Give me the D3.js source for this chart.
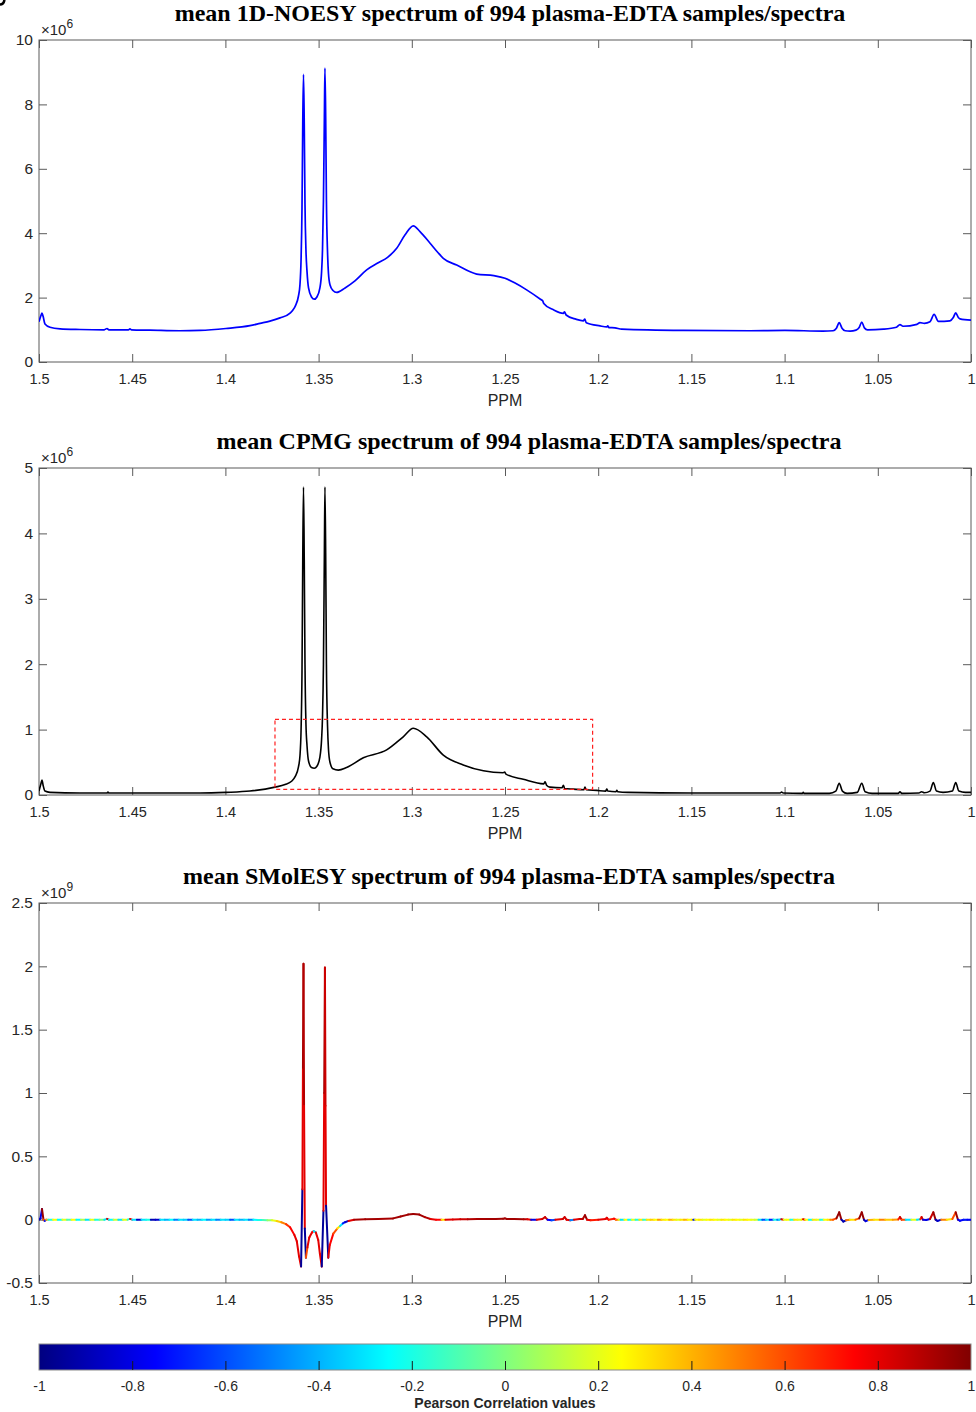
<!DOCTYPE html>
<html><head><meta charset="utf-8">
<script src="https://cdn.jsdelivr.net/npm/d3@7"></script>
<style>
html,body{margin:0;padding:0;background:#fff;}
svg{display:block;}
</style></head><body>
<svg id="fig" width="976" height="1412"></svg>
<script>
// ---- chemical shift axis ----
const xTicks = [1.5, 1.45, 1.4, 1.35, 1.3, 1.25, 1.2, 1.15, 1.1, 1.05, 1];
const xTickLabels = ["1.5", "1.45", "1.4", "1.35", "1.3", "1.25", "1.2", "1.15", "1.1", "1.05", "1"];

// ---- mean 1D-NOESY spectrum: [ppm, intensity x1e6] ----
const noesy = [
  [1.5000,1.25],[1.4989,1.45],[1.4984,1.52],[1.4978,1.42],[1.4968,1.18],[1.4941,1.08],
  [1.4887,1.03],[1.4780,1.01],[1.4650,1.00],[1.4635,1.04],[1.4625,1.00],[1.4520,1.00],
  [1.4512,1.03],[1.4504,1.00],[1.4405,0.99],[1.4244,0.97],[1.4136,0.98],[1.3997,1.04],
  [1.3868,1.13],[1.3814,1.20],[1.3761,1.27],[1.3707,1.37],[1.3653,1.52],[1.3630,1.68],
  [1.3624,1.75],[1.3608,2.05],[1.3600,2.40],[1.3594,3.20],[1.3589,4.80],[1.3585,7.40],
  [1.3581,8.93],[1.3577,7.40],[1.3573,4.90],[1.3568,3.50],[1.3562,2.80],[1.3554,2.30],
  [1.3538,2.02],[1.3523,1.95],[1.3509,2.02],[1.3493,2.30],[1.3484,2.80],[1.3479,3.50],
  [1.3474,5.00],[1.3469,7.60],[1.3466,9.13],[1.3462,7.60],[1.3458,5.00],[1.3452,3.40],
  [1.3447,2.75],[1.3439,2.40],[1.3423,2.22],[1.3403,2.16],[1.3358,2.30],[1.3305,2.52],
  [1.3242,2.86],[1.3180,3.08],[1.3130,3.25],[1.3081,3.53],[1.3036,3.95],[1.2992,4.23],
  [1.2956,4.05],[1.2902,3.69],[1.2860,3.40],[1.2831,3.22],[1.2759,3.01],[1.2652,2.73],
  [1.2560,2.68],[1.2500,2.60],[1.2446,2.45],[1.2384,2.24],[1.2310,1.95],[1.2298,1.90],
  [1.2292,1.82],[1.2240,1.62],[1.2187,1.51],[1.2181,1.56],[1.2172,1.46],[1.2120,1.33],
  [1.2080,1.28],[1.2072,1.33],[1.2064,1.22],[1.1990,1.12],[1.1954,1.09],[1.1949,1.12],
  [1.1942,1.07],[1.1910,1.06],[1.1874,1.02],[1.1545,0.98],[1.1186,0.97],[1.0998,0.98],
  [1.0794,0.96],[1.0740,0.97],[1.0722,1.05],[1.0707,1.22],[1.0692,1.05],[1.0675,0.97],
  [1.0649,0.96],[1.0617,0.99],[1.0600,1.07],[1.0586,1.24],[1.0572,1.06],[1.0555,1.00],
  [1.0470,1.02],[1.0400,1.08],[1.0381,1.16],[1.0365,1.11],[1.0290,1.17],[1.0274,1.22],
  [1.0250,1.20],[1.0220,1.25],[1.0198,1.48],[1.0175,1.26],[1.0113,1.28],[1.0095,1.38],
  [1.0082,1.53],[1.0068,1.38],[1.0059,1.34],[1.0000,1.30]
];

// ---- mean CPMG spectrum: [ppm, intensity x1e6] ----
const cpmg = [
  [1.5000,0.06],[1.4989,0.18],[1.4984,0.23],[1.4978,0.15],[1.4968,0.06],[1.4941,0.04],
  [1.4780,0.03],[1.4635,0.03],[1.4630,0.045],[1.4625,0.03],[1.4405,0.03],[1.4136,0.03],
  [1.3997,0.04],[1.3868,0.06],[1.3734,0.12],[1.3680,0.16],[1.3645,0.21],[1.3626,0.28],
  [1.3608,0.43],[1.3600,0.60],[1.3594,1.00],[1.3589,1.90],[1.3585,3.60],[1.3581,4.71],
  [1.3577,3.60],[1.3573,2.00],[1.3568,1.10],[1.3562,0.75],[1.3554,0.52],[1.3538,0.42],
  [1.3523,0.41],[1.3509,0.44],[1.3493,0.58],[1.3484,0.85],[1.3479,1.20],[1.3474,2.00],
  [1.3469,3.70],[1.3466,4.71],[1.3462,3.70],[1.3458,2.00],[1.3452,1.05],[1.3447,0.70],
  [1.3439,0.50],[1.3423,0.40],[1.3394,0.38],[1.3350,0.42],[1.3260,0.57],[1.3135,0.69],
  [1.3046,0.89],[1.2992,1.02],[1.2920,0.89],[1.2831,0.61],[1.2724,0.46],[1.2616,0.37],
  [1.2510,0.34],[1.2502,0.35],[1.2495,0.32],[1.2402,0.24],[1.2292,0.17],[1.2285,0.20],
  [1.2277,0.15],[1.2259,0.12],[1.2194,0.11],[1.2187,0.15],[1.2180,0.10],[1.2134,0.09],
  [1.2077,0.08],[1.2071,0.12],[1.2064,0.08],[1.2008,0.07],[1.1960,0.06],[1.1954,0.09],
  [1.1948,0.06],[1.1905,0.05],[1.1900,0.07],[1.1895,0.05],[1.1840,0.04],[1.1500,0.03],
  [1.1200,0.03],[1.1024,0.03],[1.1016,0.045],[1.1008,0.03],[1.0905,0.025],[1.0900,0.04],
  [1.0895,0.025],[1.0760,0.025],[1.0725,0.06],[1.0707,0.18],[1.0690,0.06],[1.0665,0.025],
  [1.0610,0.04],[1.0586,0.18],[1.0568,0.05],[1.0530,0.025],[1.0390,0.025],[1.0381,0.05],
  [1.0372,0.025],[1.0280,0.03],[1.0265,0.05],[1.0250,0.035],[1.0220,0.06],[1.0202,0.19],
  [1.0185,0.06],[1.0150,0.04],[1.0100,0.06],[1.0082,0.19],[1.0065,0.06],[1.0030,0.04],
  [1.0000,0.04]
];

// zoomed region marked on the CPMG spectrum: ppm from/to, intensity from/to (x1e6)
const regionPpm = [1.3734, 1.2030];
const regionInt = [0.087, 1.157];

// ---- mean SMolESY spectrum: [ppm, intensity x1e9, Pearson r] ----
const smolesy = [
  [1.5000,0.000,-0.9],[1.4992,0.010,-0.8],[1.4984,0.085,0.95],[1.4976,0.000,0.6],
  [1.4970,-0.010,-0.7],[1.4962,0.000,0.4],
  [1.4950,0,-0.2],[1.4925,0,0.25],[1.4900,0,-0.25],[1.4875,0,0.2],[1.4850,0,-0.1],
  [1.4825,0,0.25],[1.4800,0,-0.25],[1.4775,0,0.1],[1.4750,0,-0.3],[1.4725,0,0.2],
  [1.4700,0,-0.2],[1.4675,0,0.0],[1.4650,0,-0.3],[1.4635,0.006,0.85],[1.4625,0,-0.25],
  [1.4600,0,0.15],[1.4575,0,-0.3],[1.4550,0,0.2],[1.4525,0,-0.2],[1.4512,0.006,0.8],
  [1.4500,0,-0.3],[1.4475,0,-0.85],[1.4450,0,-0.3],[1.4425,0,-0.2],[1.4400,0,-0.9],
  [1.4375,0,-0.85],[1.4350,0,-0.3],[1.4325,0,-0.4],[1.4300,0,-0.25],[1.4275,0,-0.5],
  [1.4250,0,-0.3],[1.4225,0,-0.35],[1.4200,0,-0.6],[1.4175,0,-0.3],[1.4150,0,-0.4],
  [1.4125,0,-0.25],[1.4100,0,-0.45],[1.4075,0,-0.3],[1.4050,0,-0.5],[1.4025,0,-0.3],
  [1.4000,0,-0.35],[1.3975,0,-0.6],[1.3950,0,-0.3],[1.3925,0,-0.4],[1.3900,0,-0.3],
  [1.3875,0,-0.5],[1.3850,0,-0.25],[1.3825,-0.002,-0.2],[1.3800,-0.003,-0.1],
  [1.3775,-0.004,0.05],[1.3750,-0.005,0.2],[1.3725,-0.010,0.35],[1.3700,-0.020,0.5],
  [1.3675,-0.035,0.65],[1.3653,-0.060,0.75],[1.3630,-0.120,0.8],
  [1.3617,-0.170,0.8],[1.3605,-0.290,0.8],[1.3594,-0.370,-0.95],[1.3587,0.240,0.8],
  [1.3584,1.200,0.92],[1.3581,2.020,0.9],[1.3578,0.900,0.8],[1.3574,-0.070,-0.95],
  [1.3568,-0.300,0.6],[1.3560,-0.220,0.8],[1.3550,-0.140,0.8],[1.3535,-0.100,0.75],
  [1.3526,-0.090,-0.3],[1.3515,-0.100,0.8],[1.3502,-0.160,0.8],[1.3493,-0.270,0.8],
  [1.3483,-0.370,-0.95],[1.3474,0.070,0.8],[1.3470,1.000,0.92],[1.3466,1.990,0.85],
  [1.3463,0.900,0.8],[1.3460,0.110,-0.95],[1.3448,-0.300,0.8],[1.3440,-0.200,0.75],
  [1.3421,-0.110,0.6],[1.3400,-0.070,0.3],[1.3385,-0.050,-0.3],[1.3370,-0.030,-0.7],
  [1.3358,-0.020,-0.85],[1.3340,-0.010,0.8],[1.3310,0.000,0.92],
  [1.3250,0.003,0.93],[1.3180,0.005,0.92],[1.3100,0.010,0.93],[1.3060,0.025,0.93],
  [1.3020,0.040,0.94],[1.2992,0.045,0.94],[1.2960,0.040,0.93],[1.2930,0.020,0.9],
  [1.2900,0.005,0.8],[1.2870,0.000,0.75],[1.2840,0.000,0.3],[1.2820,0.000,0.8],
  [1.2780,0.002,0.82],[1.2740,0.003,0.85],[1.2700,0.004,0.9],[1.2650,0.005,0.92],
  [1.2600,0.006,0.93],[1.2550,0.006,0.93],[1.2510,0.008,0.93],[1.2500,0.010,0.93],
  [1.2490,0.005,0.93],[1.2450,0.005,0.93],[1.2400,0.004,0.9],[1.2380,0.003,0.8],
  [1.2360,0.000,-0.8],[1.2330,0.000,0.8],[1.2300,0.005,0.85],[1.2285,0.020,0.85],
  [1.2272,0.000,-0.75],[1.2250,-0.005,-0.6],[1.2230,0.000,0.8],[1.2190,0.005,0.85],
  [1.2180,0.020,0.85],[1.2170,0.000,0.8],[1.2150,-0.005,-0.5],[1.2130,0.000,0.8],
  [1.2100,0.005,0.85],[1.2083,0.005,0.9],[1.2071,0.035,0.95],[1.2060,0.000,0.8],
  [1.2040,-0.004,0.7],[1.2000,0.000,0.8],[1.1960,0.005,0.8],[1.1954,0.015,0.8],
  [1.1945,0.000,0.7],[1.1915,0.008,0.75],[1.1905,0.000,0.5],[1.1890,0.000,0.2],
  [1.1880,0,-0.3],[1.1860,0,0.25],[1.1840,0,-0.25],[1.1820,0,0.2],[1.1800,0,-0.2],
  [1.1780,0,0.3],[1.1760,0,-0.15],[1.1740,0,0.3],[1.1720,0,0.35],[1.1700,0,0.25],
  [1.1680,0,0.45],[1.1660,0,0.3],[1.1640,0,0.25],[1.1620,0,0.4],[1.1600,0,0.3],
  [1.1580,0,0.2],[1.1560,0,0.3],[1.1540,0,0.4],[1.1520,0,0.25],[1.1500,0,0.3],
  [1.1490,0,-0.7],[1.1480,0,0.25],[1.1460,0,0.3],[1.1440,0,0.2],[1.1420,0,0.25],
  [1.1400,0,0.3],[1.1380,0,0.25],[1.1360,0,0.2],[1.1340,0,0.3],[1.1320,0,0.25],
  [1.1300,0,0.2],[1.1280,0,0.3],[1.1260,0,0.25],[1.1240,0,0.2],[1.1220,0,0.3],
  [1.1200,0,0.25],[1.1180,0,0.2],[1.1160,0,0.15],[1.1140,0,-0.3],[1.1120,0,-0.6],
  [1.1100,0,-0.3],[1.1080,0,-0.7],[1.1060,0,-0.2],[1.1040,0,-0.5],[1.1030,0,-0.3],
  [1.1018,0.004,0.8],[1.1005,0,0.2],[1.0990,0,0.25],[1.0970,0,-0.2],[1.0950,0,0.3],
  [1.0930,0,0.2],[1.0910,0,0.3],[1.0901,0.004,0.8],[1.0890,0,0.25],[1.0870,0,-0.25],
  [1.0850,0,0.3],[1.0830,0,0.2],[1.0810,0,-0.2],[1.0790,0,0.25],[1.0770,0,0.3],
  [1.0755,0,0.5],
  [1.0740,0.000,0.6],[1.0722,0.010,0.95],[1.0707,0.058,0.95],[1.0695,0.000,-0.9],
  [1.0685,-0.015,-0.9],[1.0670,-0.005,0.5],[1.0650,0.000,0.3],[1.0620,0.000,0.55],
  [1.0600,0.010,0.95],[1.0586,0.058,0.95],[1.0574,0.000,-0.9],[1.0565,-0.012,-0.8],
  [1.0550,-0.003,0.4],[1.0520,0.000,0.3],[1.0490,0.000,0.5],[1.0460,0.000,0.35],
  [1.0420,0.000,0.45],[1.0390,0.002,0.7],[1.0381,0.020,0.85],[1.0372,0.000,0.6],
  [1.0350,0.000,-0.3],[1.0320,0.000,0.2],[1.0290,0.000,-0.3],[1.0272,0.003,0.7],
  [1.0265,0.020,0.85],[1.0258,0.000,-0.8],[1.0240,-0.003,-0.8],[1.0220,0.005,0.85],
  [1.0202,0.058,0.95],[1.0190,0.000,-0.9],[1.0180,-0.010,-0.85],[1.0160,0.000,0.5],
  [1.0130,0.000,0.3],[1.0100,0.005,0.6],[1.0082,0.058,0.95],[1.0070,0.000,-0.8],
  [1.0060,-0.008,-0.75],[1.0040,0.000,-0.7],[1.0020,0.000,-0.75],[1.0000,0.000,-0.7]
];

// ---- y axis ticks ----
const noesyTicks = [0, 2, 4, 6, 8, 10];
const cpmgTicks = [0, 1, 2, 3, 4, 5];
const smolTicks = [-0.5, 0, 0.5, 1, 1.5, 2, 2.5];
const smolTickLabels = ["-0.5", "0", "0.5", "1", "1.5", "2", "2.5"];

// ---- colour bar ----
const cbarTicks = [-1, -0.8, -0.6, -0.4, -0.2, 0, 0.2, 0.4, 0.6, 0.8, 1];
const cbarTickLabels = ["-1", "-0.8", "-0.6", "-0.4", "-0.2", "0", "0.2", "0.4", "0.6", "0.8", "1"];

const svg = d3.select("#fig");
const L = 39, R = 971;
const x = d3.scaleLinear().domain([1.5, 1.0]).range([L, R]);
const AX = "#5a5a5a", TXT = "#262626";
const SANS = "'Liberation Sans', Arial, Helvetica, sans-serif";
const SERIF = "'Liberation Serif', 'Times New Roman', serif";

// MATLAB-style jet colormap on r in [-1, 1]
function jet(r) {
  const t = (r + 1) / 2;
  const c = v => Math.max(0, Math.min(1, v));
  return d3.rgb(255 * c(1.5 - Math.abs(4 * t - 3)),
                255 * c(1.5 - Math.abs(4 * t - 2)),
                255 * c(1.5 - Math.abs(4 * t - 1))).formatHex();
}

function styleAxis(g, labels, size) {
  g.select(".domain").remove();
  g.selectAll(".tick line").attr("stroke", AX).attr("stroke-width", 1);
  g.selectAll(".tick text").attr("fill", TXT).style("font-family", SANS).style("font-size", size + "px");
  if (!labels) g.selectAll(".tick text").remove();
}

// corner mark of the figure's panel lettering
svg.append("path").attr("d", "M0,4.5 Q3.5,4.5 4.5,0").attr("fill", "none")
  .attr("stroke", "#000").attr("stroke-width", 2.6);

function panel(o) {
  const y = d3.scaleLinear().domain(o.yDomain).range([o.bottom, o.top]);
  const g = svg.append("g");
  const clipId = "clip" + o.id;
  svg.append("clipPath").attr("id", clipId).append("rect")
    .attr("x", L).attr("y", o.top).attr("width", R - L).attr("height", o.bottom - o.top);

  // axes with inward ticks on all four sides
  g.append("g").attr("transform", `translate(0,${o.bottom})`)
    .call(d3.axisBottom(x).tickValues(xTicks).tickFormat((d, i) => xTickLabels[i]).tickSize(-8).tickPadding(12))
    .call(a => styleAxis(a, true, 14.5));
  g.append("g").attr("transform", `translate(0,${o.top})`)
    .call(d3.axisTop(x).tickValues(xTicks).tickSize(-8))
    .call(a => styleAxis(a, false, 14.5));
  g.append("g").attr("transform", `translate(${L},0)`)
    .call(d3.axisLeft(y).tickValues(o.yTicks).tickFormat((d, i) => o.yTickLabels[i]).tickSize(-8).tickPadding(6))
    .call(a => styleAxis(a, true, 15.5));
  g.append("g").attr("transform", `translate(${R},0)`)
    .call(d3.axisRight(y).tickValues(o.yTicks).tickSize(-8))
    .call(a => styleAxis(a, false, 15.5));
  g.append("rect").attr("x", L).attr("y", o.top).attr("width", R - L).attr("height", o.bottom - o.top)
    .attr("fill", "none").attr("stroke", AX).attr("stroke-width", 1);

  // exponent
  const ex = g.append("text").attr("x", 41).attr("y", o.top - 5)
    .attr("fill", TXT).style("font-family", SANS).style("font-size", "15px").text("\u00d710");
  ex.append("tspan").attr("dy", -7).style("font-size", "12px").text(o.exp);

  // x label
  g.append("text").attr("x", (L + R) / 2).attr("y", o.bottom + 44).attr("text-anchor", "middle")
    .attr("fill", TXT).style("font-family", SANS).style("font-size", "16px").text("PPM");

  // title
  g.append("text").attr("x", o.titleX).attr("y", o.titleY).attr("text-anchor", "middle")
    .attr("fill", "#000").style("font-family", SERIF).style("font-weight", "bold")
    .style("font-size", "24px").text(o.title);

  return { y, g, clipId };
}

// ---------- panel 1: 1D-NOESY ----------
const p1 = panel({ id: 1, top: 40, bottom: 362, yDomain: [0, 10], yTicks: noesyTicks,
  yTickLabels: noesyTicks.map(String), exp: "6", titleX: 510, titleY: 21,
  title: "mean 1D-NOESY spectrum of 994 plasma-EDTA samples/spectra" });
p1.g.append("path").datum(noesy).attr("clip-path", `url(#${p1.clipId})`)
  .attr("d", d3.line().x(d => x(d[0])).y(d => p1.y(d[1])).curve(d3.curveMonotoneX))
  .attr("fill", "none").attr("stroke", "#0000ff").attr("stroke-width", 1.7).attr("stroke-linejoin", "round");

// ---------- panel 2: CPMG ----------
const p2 = panel({ id: 2, top: 468, bottom: 795, yDomain: [0, 5], yTicks: cpmgTicks,
  yTickLabels: cpmgTicks.map(String), exp: "6", titleX: 529, titleY: 449,
  title: "mean CPMG spectrum of 994 plasma-EDTA samples/spectra" });
p2.g.append("path").datum(cpmg).attr("clip-path", `url(#${p2.clipId})`)
  .attr("d", d3.line().x(d => x(d[0])).y(d => p2.y(d[1])).curve(d3.curveMonotoneX))
  .attr("fill", "none").attr("stroke", "#000").attr("stroke-width", 1.6).attr("stroke-linejoin", "round");
p2.g.append("rect")
  .attr("x", x(regionPpm[0])).attr("y", p2.y(regionInt[1]))
  .attr("width", x(regionPpm[1]) - x(regionPpm[0])).attr("height", p2.y(regionInt[0]) - p2.y(regionInt[1]))
  .attr("fill", "none").attr("stroke", "#ff2020").attr("stroke-width", 1.2).attr("stroke-dasharray", "4,3");

// ---------- panel 3: SMolESY coloured by correlation ----------
const p3 = panel({ id: 3, top: 903, bottom: 1283, yDomain: [-0.5, 2.5], yTicks: smolTicks,
  yTickLabels: smolTickLabels, exp: "9", titleX: 509, titleY: 884,
  title: "mean SMolESY spectrum of 994 plasma-EDTA samples/spectra" });
const segs = d3.pairs(smolesy);
p3.g.append("g").attr("clip-path", `url(#${p3.clipId})`)
  .selectAll("line").data(segs).join("line")
  .attr("x1", d => x(d[0][0])).attr("y1", d => p3.y(d[0][1]))
  .attr("x2", d => x(d[1][0])).attr("y2", d => p3.y(d[1][1]))
  .attr("stroke", d => jet(d[0][2])).attr("stroke-width", 2).attr("stroke-linecap", "round");

// ---------- colour bar ----------
const cb = { top: 1344, bottom: 1370 };
const cx = d3.scaleLinear().domain([-1, 1]).range([L, R]);
const grad = svg.append("defs").append("linearGradient").attr("id", "jetGrad")
  .attr("x1", "0%").attr("x2", "100%").attr("y1", "0%").attr("y2", "0%");
[-1, -0.75, -0.25, 0.25, 0.75, 1].forEach(v => {
  grad.append("stop").attr("offset", ((v + 1) / 2 * 100) + "%").attr("stop-color", jet(v));
});
svg.append("rect").attr("x", L).attr("y", cb.top).attr("width", R - L).attr("height", cb.bottom - cb.top)
  .attr("fill", "url(#jetGrad)").attr("stroke", "#8a8a8a").attr("stroke-width", 1);
const cbAxis = svg.append("g").attr("transform", `translate(0,${cb.bottom})`)
  .call(d3.axisBottom(cx).tickValues(cbarTicks).tickFormat((d, i) => cbarTickLabels[i]).tickSize(-9).tickPadding(11));
cbAxis.select(".domain").remove();
cbAxis.selectAll(".tick line").attr("stroke", "#1a1a1a").attr("stroke-width", 1)
  .filter(d => d === -1 || d === 1).remove();
cbAxis.selectAll(".tick text").attr("fill", TXT).style("font-family", SANS).style("font-size", "14px");
svg.append("text").attr("x", (L + R) / 2).attr("y", 1408).attr("text-anchor", "middle")
  .attr("fill", TXT).style("font-family", SANS).style("font-weight", "bold").style("font-size", "14px")
  .text("Pearson Correlation values");
</script>
</body></html>
